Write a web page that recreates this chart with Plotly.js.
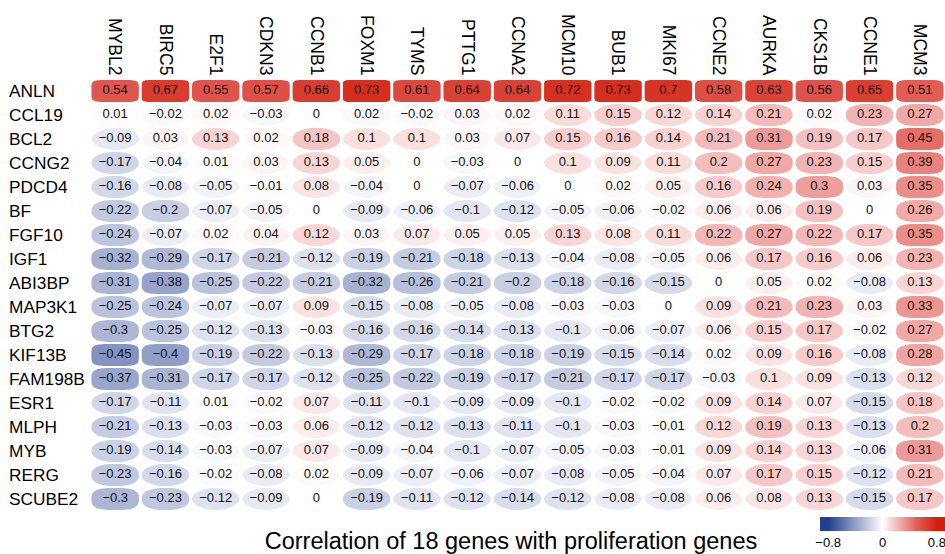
<!DOCTYPE html>
<html>
<head>
<meta charset="utf-8">
<script src="https://cdn.plot.ly/plotly-3.0.1.min.js"></script>
<style>html,body{margin:0;padding:0;background:#fff;}#chart{width:945px;height:554px;}</style>
</head>
<body>
<div id="chart"></div>
<script>
// Proliferation genes (columns)
const cols = ["MYBL2","BIRC5","E2F1","CDKN3","CCNB1","FOXM1","TYMS","PTTG1","CCNA2","MCM10","BUB1","MKI67","CCNE2","AURKA","CKS1B","CCNE1","MCM3"];
// 18 genes (rows)
const rows = ["ANLN","CCL19","BCL2","CCNG2","PDCD4","BF","FGF10","IGF1","ABI3BP","MAP3K1","BTG2","KIF13B","FAM198B","ESR1","MLPH","MYB","RERG","SCUBE2"];

const ANLN    = [0.54,0.67,0.55,0.57,0.66,0.73,0.61,0.64,0.64,0.72,0.73,0.7,0.58,0.63,0.56,0.65,0.51];
const CCL19   = [0.01,-0.02,0.02,-0.03,0,0.02,-0.02,0.03,0.02,0.11,0.15,0.12,0.14,0.21,0.02,0.23,0.27];
const BCL2    = [-0.09,0.03,0.13,0.02,0.18,0.1,0.1,0.03,0.07,0.15,0.16,0.14,0.21,0.31,0.19,0.17,0.45];
const CCNG2   = [-0.17,-0.04,0.01,0.03,0.13,0.05,0,-0.03,0,0.1,0.09,0.11,0.2,0.27,0.23,0.15,0.39];
const PDCD4   = [-0.16,-0.08,-0.05,-0.01,0.08,-0.04,0,-0.07,-0.06,0,0.02,0.05,0.16,0.24,0.3,0.03,0.35];
const BF      = [-0.22,-0.2,-0.07,-0.05,0,-0.09,-0.06,-0.1,-0.12,-0.05,-0.06,-0.02,0.06,0.06,0.19,0,0.26];
const FGF10   = [-0.24,-0.07,0.02,0.04,0.12,0.03,0.07,0.05,0.05,0.13,0.08,0.11,0.22,0.27,0.22,0.17,0.35];
const IGF1    = [-0.32,-0.29,-0.17,-0.21,-0.12,-0.19,-0.21,-0.18,-0.13,-0.04,-0.08,-0.05,0.06,0.17,0.16,0.06,0.23];
const ABI3BP  = [-0.31,-0.38,-0.25,-0.22,-0.21,-0.32,-0.26,-0.21,-0.2,-0.18,-0.16,-0.15,0,0.05,0.02,-0.08,0.13];
const MAP3K1  = [-0.25,-0.24,-0.07,-0.07,0.09,-0.15,-0.08,-0.05,-0.08,-0.03,-0.03,0,0.09,0.21,0.23,0.03,0.33];
const BTG2    = [-0.3,-0.25,-0.12,-0.13,-0.03,-0.16,-0.16,-0.14,-0.13,-0.1,-0.06,-0.07,0.06,0.15,0.17,-0.02,0.27];
const KIF13B  = [-0.45,-0.4,-0.19,-0.22,-0.13,-0.29,-0.17,-0.18,-0.18,-0.19,-0.15,-0.14,0.02,0.09,0.16,-0.08,0.28];
const FAM198B = [-0.37,-0.31,-0.17,-0.17,-0.12,-0.25,-0.22,-0.19,-0.17,-0.21,-0.17,-0.17,-0.03,0.1,0.09,-0.13,0.12];
const ESR1    = [-0.17,-0.11,0.01,-0.02,0.07,-0.11,-0.1,-0.09,-0.09,-0.1,-0.02,-0.02,0.09,0.14,0.07,-0.15,0.18];
const MLPH    = [-0.21,-0.13,-0.03,-0.03,0.06,-0.12,-0.12,-0.13,-0.11,-0.1,-0.03,-0.01,0.12,0.19,0.13,-0.13,0.2];
const MYB     = [-0.19,-0.14,-0.03,-0.07,0.07,-0.09,-0.04,-0.1,-0.07,-0.05,-0.03,-0.01,0.09,0.14,0.13,-0.06,0.31];
const RERG    = [-0.23,-0.16,-0.02,-0.08,0.02,-0.09,-0.07,-0.06,-0.07,-0.08,-0.05,-0.04,0.07,0.17,0.15,-0.12,0.21];
const SCUBE2  = [-0.3,-0.23,-0.12,-0.09,0,-0.19,-0.11,-0.12,-0.14,-0.12,-0.08,-0.08,0.06,0.08,0.13,-0.15,0.17];

const corr = [ANLN,CCL19,BCL2,CCNG2,PDCD4,BF,FGF10,IGF1,ABI3BP,MAP3K1,BTG2,KIF13B,FAM198B,ESR1,MLPH,MYB,RERG,SCUBE2];

const colorbarTicks = [-0.8, 0, 0.8];
const colorbarTickText = ["\u22120.8", "0", "0.8"];

// colour scale (range padded so the end tick labels fit inside the page)
const CMIN = -0.92, CMAX = 0.92;
function frac(v){ return (v - CMIN) / (CMAX - CMIN); }
const stops = [
  [0, [35,62,142]], [frac(-0.8), [35,62,142]],
  [0.5, [255,255,255]],
  [frac(0.25), [241,174,172]],
  [frac(0.5), [225,95,88]],
  [frac(0.8), [210,31,12]], [1, [210,31,12]]
];
const colorscale = stops.map(s => [s[0], 'rgb(' + s[1].join(',') + ')']);
function colorAt(v){
  const f = Math.max(0, Math.min(1, frac(v)));
  for (let i = 0; i < stops.length - 1; i++){
    const [f0,c0] = stops[i], [f1,c1] = stops[i+1];
    if (f >= f0 && f <= f1){
      const t = f1 === f0 ? 0 : (f - f0) / (f1 - f0);
      const c = c0.map((a,k) => Math.round(a + (c1[k]-a)*t));
      return 'rgb(' + c.join(',') + ')';
    }
  }
  return 'rgb(255,255,255)';
}

function superEllipse(cx, cy, a, b, n){
  const N = 72, pts = [];
  for (let k = 0; k < N; k++){
    const t = 2*Math.PI*k/N, c = Math.cos(t), s = Math.sin(t);
    const x = cx + a*Math.sign(c)*Math.pow(Math.abs(c), 2/n);
    const y = cy + b*Math.sign(s)*Math.pow(Math.abs(s), 2/n);
    pts.push(x.toFixed(4) + ',' + y.toFixed(4));
  }
  return 'M' + pts.join('L') + 'Z';
}

const shapes = [];
const tx = [], ty = [], tt = [], mc = [];
corr.forEach((row, i) => {
  row.forEach((v, j) => {
    const n = 1.7 + 14*v*v;
    shapes.push({
      type: 'path', xref: 'x', yref: 'y', layer: 'below',
      path: superEllipse(j, i, 0.472, 0.46, n),
      fillcolor: colorAt(v), line: {width: 0}
    });
    tx.push(j); ty.push(i); mc.push(v);
    tt.push(String(v).replace('-', '\u2212'));
  });
});

const FONT = 'Liberation Sans, Arial, sans-serif';
const annotations = rows.map((r, i) => ({
  xref: 'paper', yref: 'y', x: -83/855, y: i, xanchor: 'left', yanchor: 'middle',
  text: r, showarrow: false, font: {family: FONT, size: 17.3, color: '#000'}
}));

const traces = [
  {
    type: 'scatter', mode: 'markers', x: tx, y: ty, hoverinfo: 'skip',
    marker: {size: 1, opacity: 0, color: mc, colorscale: colorscale, cmin: CMIN, cmax: CMAX, showscale: true,
      colorbar: {orientation: 'h', x: 1, xanchor: 'right', y: -6/432, yanchor: 'top',
        len: 125, lenmode: 'pixels', thickness: 14, xpad: 0, ypad: 0, outlinewidth: 0,
        ticks: '', tickvals: colorbarTicks, ticktext: colorbarTickText, ticklabeloverflow: 'allow',
        tickfont: {family: FONT, size: 13, color: '#000'}}}
  },
  {
    type: 'scatter', mode: 'text', x: tx, y: ty, text: tt, hoverinfo: 'skip',
    textposition: 'middle center',
    textfont: {family: FONT, size: 13, color: '#111'}
  }
];

const layout = {
  width: 945, height: 554,
  margin: {l: 90, r: 0, t: 79, b: 43, autoexpand: false},
  paper_bgcolor: '#fff', plot_bgcolor: '#fff',
  showlegend: false,
  title: {text: 'Correlation of 18 genes with proliferation genes', x: 511/945, xanchor: 'center',
    y: 1 - 541/554, yref: 'container', yanchor: 'middle',
    font: {family: FONT, size: 23.5, color: '#000'}},
  xaxis: {range: [-0.5, 16.5], side: 'top', tickmode: 'array', tickvals: cols.map((c,i)=>i), ticktext: cols,
    tickangle: 90, ticks: '', showgrid: false, zeroline: false, showline: false, fixedrange: true,
    tickfont: {family: FONT, size: 17.5, color: '#000'}},
  yaxis: {range: [17.5, -0.5], showticklabels: false, ticks: '', showgrid: false, zeroline: false, showline: false, fixedrange: true},
  shapes: shapes,
  annotations: annotations
};

Plotly.newPlot('chart', traces, layout, {displayModeBar: false, staticPlot: true});
</script>
</body>
</html>
